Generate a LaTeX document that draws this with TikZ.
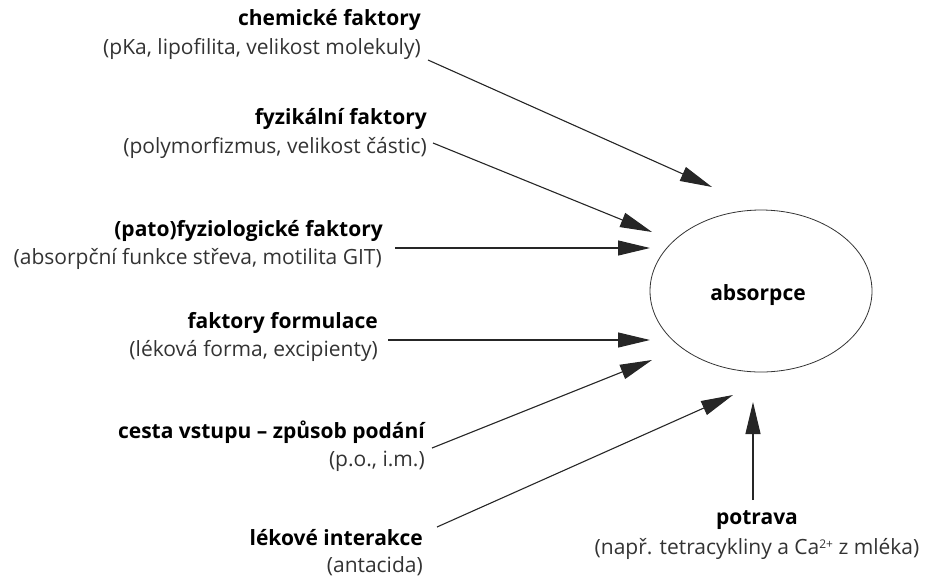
\documentclass[tikz,border=0pt]{standalone}
\usepackage{fontspec}
\setmainfont{Open Sans}
\usetikzlibrary{arrows.meta,shapes.geometric}
\tikzset{
  ttl/.style={font=\fontsize{21}{24}\selectfont\bfseries, text=black, inner sep=0pt, anchor=east},
  sub/.style={font=\fontsize{21}{24}\selectfont, text=black!80, inner sep=0pt, anchor=east},
  arr/.style={draw=black!85, line width=1.1pt, -{Triangle[length=32pt,width=15pt]}},
}
\begin{document}
\begin{tikzpicture}[x=1pt,y=-1pt]
\useasboundingbox (0,0) rectangle (928,579);
\node[draw=black!80, line width=0.8pt, ellipse, minimum width=222pt, minimum height=162pt, inner sep=0pt] (abs) at (761,291) {};
\node[font=\fontsize{21}{24}\selectfont\bfseries, inner sep=0pt] (absl) at (758,295) {absorpce};

\node[ttl] (t1) at (421,20) {chemické faktory};
\node[sub] (s1) at (421,49) {(pKa, lipofilita, velikost molekuly)};
\node[ttl] (t2) at (427,119) {fyzikální faktory};
\node[sub] (s2) at (427,148) {(polymorfizmus, velikost částic)};
\node[ttl] (t3) at (383,231) {(pato)fyziologické faktory};
\node[sub] (s3) at (382,259) {(absorpční funkce střeva, motilita GIT)};
\node[ttl] (t4) at (378,323) {faktory formulace};
\node[sub] (s4) at (378,351) {(léková forma, excipienty)};
\node[ttl] (t5) at (425,432) {cesta vstupu – způsob podání};
\node[sub] (s5) at (425,461) {(p.o., i.m.)};
\node[ttl] (t6) at (423,538) {lékové interakce};
\node[sub] (s6) at (423,566) {(antacida)};
\node[ttl, anchor=center] (t7) at (757,520) {potrava};
\node[sub, anchor=center] (s7) at (757,549) {(např. tetracykliny a Ca\raisebox{0.55ex}{\fontsize{12}{12}\selectfont 2+} z mléka)};

\coordinate (a1) at (428,60);  \coordinate (b1) at (712,187);
\coordinate (a2) at (433,143); \coordinate (b2) at (652,232);
\coordinate (a3) at (395,248); \coordinate (b3) at (650,248);
\coordinate (a4) at (388,340); \coordinate (b4) at (650,340);
\coordinate (a5) at (432,448); \coordinate (b5) at (652,360);
\coordinate (a6) at (437,527); \coordinate (b6) at (733,395);
\coordinate (a7) at (753,500); \coordinate (b7) at (753,402);

\foreach \i in {1,...,7} {\draw[arr] (a\i) -- (b\i);}
\end{tikzpicture}
\end{document}
